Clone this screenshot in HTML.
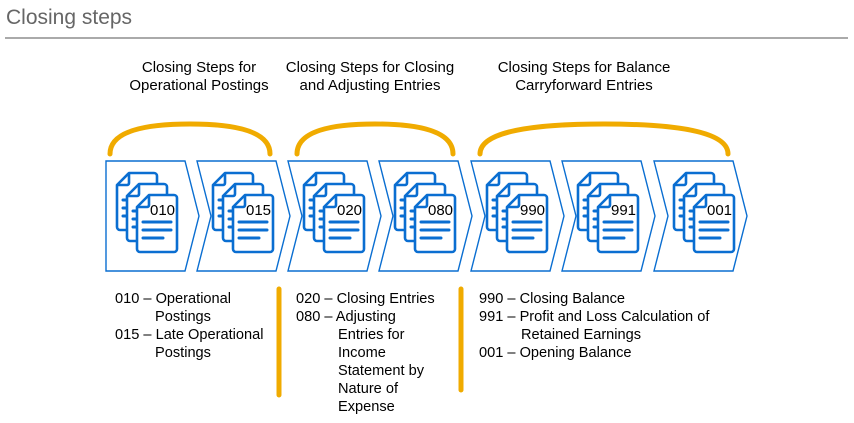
<!DOCTYPE html>
<html><head><meta charset="utf-8"><style>
body{margin:0;background:#fff;width:854px;height:418px;overflow:hidden;font-family:"Liberation Sans",sans-serif}
</style></head><body>
<svg width="854" height="418" viewBox="0 0 854 418" xmlns="http://www.w3.org/2000/svg" font-family="Liberation Sans, sans-serif">
<defs>
<g id="page">
<path d="M12,0 H37 a3,3 0 0 1 3,3 V54 a3,3 0 0 1 -3,3 H3 a3,3 0 0 1 -3,-3 V12 Z" fill="#fff" stroke="#0a6ed1" stroke-width="2.6" stroke-linejoin="round"/>
<path d="M12,0 V10 a2,2 0 0 1 -2,2 H0" fill="none" stroke="#0a6ed1" stroke-width="2.6"/>
<g stroke="#0a6ed1" stroke-width="3" stroke-linecap="round">
<line x1="6" y1="27" x2="34" y2="27"/><line x1="6" y1="35" x2="34" y2="35"/><line x1="6" y1="43" x2="26" y2="43"/>
</g>
</g>
<g id="docs">
<use href="#page" x="0" y="0"/>
<use href="#page" x="10" y="11"/>
<use href="#page" x="20" y="22"/>
</g>
</defs>
<text x="6" y="24" font-size="21" fill="#666">Closing steps</text>
<line x1="5" y1="38" x2="848" y2="38" stroke="#777" stroke-width="1.2"/>
<g font-size="15" fill="#000" text-anchor="middle">
<text x="199" y="72">Closing Steps for</text><text x="199" y="90">Operational Postings</text>
<text x="370" y="72">Closing Steps for Closing</text><text x="370" y="90">and Adjusting Entries</text>
<text x="584" y="72">Closing Steps for Balance</text><text x="584" y="90">Carryforward Entries</text>
</g>
<g fill="none" stroke="#f0ab00" stroke-width="5" stroke-linecap="round">
<path d="M110,154 Q110,124 190,124 Q270,124 270,154"/>
<path d="M297,154 Q297,124 375,124 Q453,124 453,154"/>
<path d="M480,154 Q480,124 604,124 Q728,124 728,154"/>
<line x1="279" y1="289" x2="279" y2="395"/>
<line x1="461" y1="289" x2="461" y2="390"/>
</g>
<g fill="#fff" stroke="#0a6ed1" stroke-width="1.4">
<path d="M106,161 H185 L199,216 L185,271 H106 Z"/>
<path d="M197,161 H276 L290,216 L276,271 H197 L211,216 Z"/>
<path d="M288,161 H367 L381,216 L367,271 H288 L302,216 Z"/>
<path d="M379,161 H458 L472,216 L458,271 H379 L393,216 Z"/>
<path d="M471,161 H550 L564,216 L550,271 H471 L485,216 Z"/>
<path d="M562,161 H641 L655,216 L641,271 H562 L576,216 Z"/>
<path d="M654,161 H733 L747,216 L733,271 H654 L668,216 Z"/>
</g>
<use href="#docs" x="117" y="173"/>
<use href="#docs" x="213" y="173"/>
<use href="#docs" x="304" y="173"/>
<use href="#docs" x="395" y="173"/>
<use href="#docs" x="487" y="173"/>
<use href="#docs" x="578" y="173"/>
<use href="#docs" x="674" y="173"/>
<g font-size="15" fill="#000">
<text x="150" y="215">010</text><text x="246" y="215">015</text><text x="337" y="215">020</text>
<text x="428" y="215">080</text><text x="520" y="215">990</text><text x="611" y="215">991</text><text x="707" y="215">001</text>
</g>
<g font-size="14.6" fill="#000">
<text x="115" y="303">010 – Operational</text>
<text x="155" y="321">Postings</text>
<text x="115" y="339">015 – Late Operational</text>
<text x="155" y="357">Postings</text>
<text x="296" y="303">020 – Closing Entries</text>
<text x="296" y="321">080 – Adjusting</text>
<text x="338" y="339">Entries for</text>
<text x="338" y="357">Income</text>
<text x="338" y="375">Statement by</text>
<text x="338" y="393">Nature of</text>
<text x="338" y="411">Expense</text>
<text x="479" y="303">990 – Closing Balance</text>
<text x="479" y="321">991 – Profit and Loss Calculation of</text>
<text x="521" y="339">Retained Earnings</text>
<text x="479" y="357">001 – Opening Balance</text>
</g>
</svg>
</body></html>
